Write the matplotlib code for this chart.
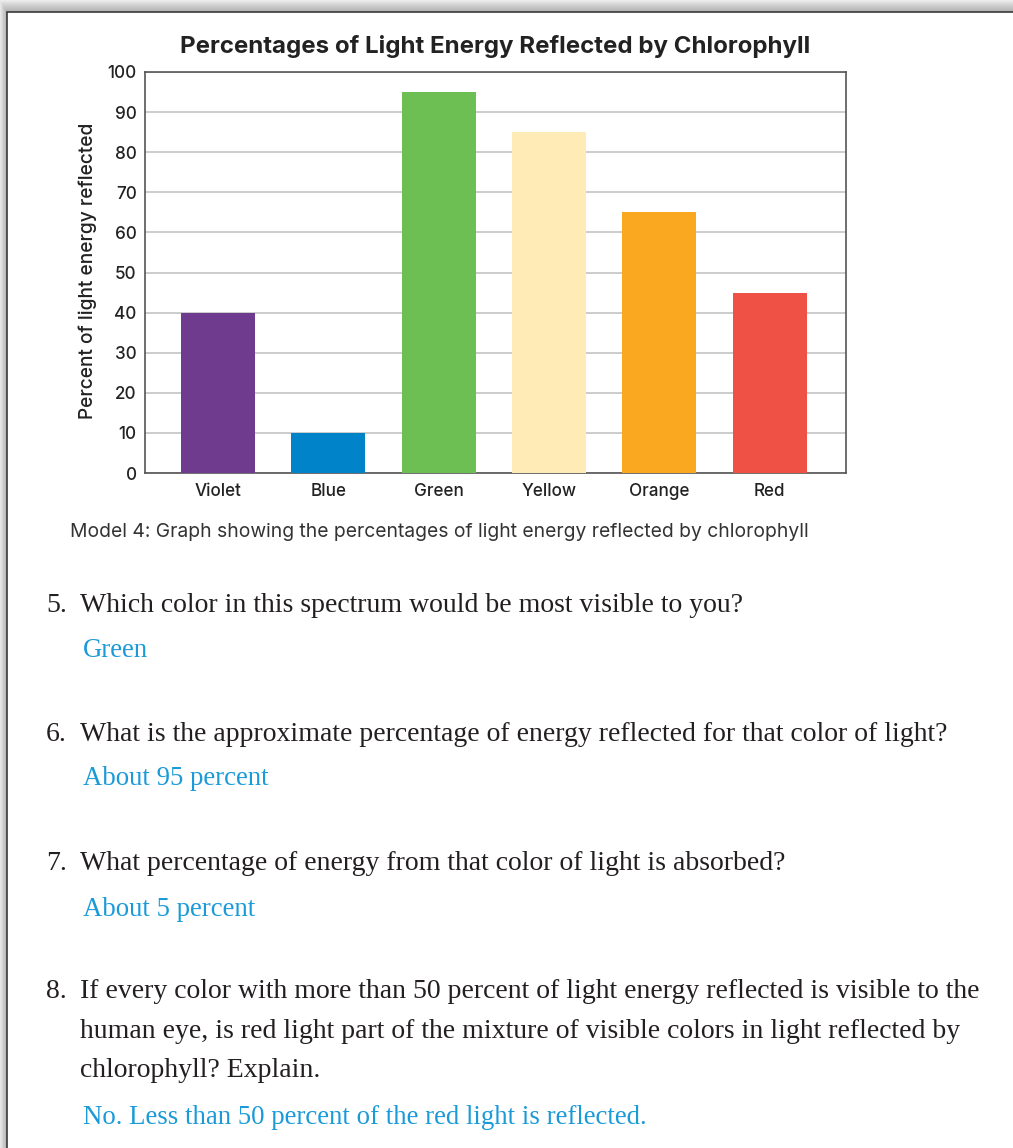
import matplotlib.pyplot as plt
from matplotlib.patches import Rectangle

# bar chart data
colors_names = ['Violet', 'Blue', 'Green', 'Yellow', 'Orange', 'Red']
reflected = [40, 10, 95, 85, 65, 45]
bar_colors = ['#6E3B8E', '#0083C8', '#6DBE53', '#FEEBB6', '#F9A81F', '#F05145']
y_ticks = [0, 10, 20, 30, 40, 50, 60, 70, 80, 90, 100]

# worksheet questions and answers
questions = [
    ('5.', ['Which color in this spectrum would be most visible to you?'],
     'Green'),
    ('6.', ['What is the approximate percentage of energy reflected for that color of light?'],
     'About 95 percent'),
    ('7.', ['What percentage of energy from that color of light is absorbed?'],
     'About 5 percent'),
    ('8.', ['If every color with more than 50 percent of light energy reflected is visible to the',
            'human eye, is red light part of the mixture of visible colors in light reflected by',
            'chlorophyll? Explain.'],
     'No. Less than 50 percent of the red light is reflected.'),
]
question_baselines = [612, 741, 870, 998]
answer_baselines = [657, 785, 916, 1124]

W, H = 1013, 1148
fig = plt.figure(figsize=(W / 100, H / 100), dpi=100)
fig.patch.set_facecolor('#d9d9d9')


def fx(px):
    return px / W


def fy(py):
    return 1 - py / H


# page background with a soft shadow
bg = fig.add_axes([0, 0, 1, 1])
bg.set_xlim(0, W)
bg.set_ylim(H, 0)
bg.axis('off')
bg.add_patch(Rectangle((0, 0), W, H, color='#f2f2f2', zorder=0))
for k in range(12, 0, -1):
    bg.add_patch(Rectangle((7 - k * 0.6, 12 - k), W, H, color='#000000',
                           alpha=0.025, lw=0, zorder=1))
bg.add_patch(Rectangle((7, 12), W, H + 10, facecolor='white',
                       edgecolor='#3a3a3a', lw=1.2, zorder=2))

sans = 'Inter'
ax = fig.add_axes([fx(145), fy(473), fx(701), 401 / H])
x = range(len(colors_names))
ax.bar(x, reflected, width=0.67, color=bar_colors, zorder=3)
ax.set_xlim(-0.66, 5.69)
ax.set_ylim(0, 100)
ax.set_yticks(y_ticks)
ax.set_xticks(list(x))
ax.set_xticklabels(colors_names)
ax.yaxis.grid(True, color='#c4c4c4', lw=1.2, zorder=0)
ax.tick_params(length=0, labelsize=12.3, labelcolor='#222222')
ax.tick_params(axis='y', pad=6)
ax.tick_params(axis='x', pad=7)
for lab in ax.get_xticklabels() + ax.get_yticklabels():
    lab.set_fontfamily(sans)
    lab.set_fontweight('medium')
for sp in ax.spines.values():
    sp.set_color('#555555')
    sp.set_linewidth(1.2)

fig.text(fx(495), fy(53), 'Percentages of Light Energy Reflected by Chlorophyll',
         ha='center', va='baseline', fontsize=17.3, fontweight='bold',
         family=sans, color='#222222')
fig.text(fx(88), fy(271), 'Percent of light energy reflected', rotation=90,
         ha='center', va='center', fontsize=13.8, fontweight='medium',
         family=sans, color='#222222')
fig.text(fx(70), fy(537), 'Model 4: Graph showing the percentages of light energy reflected by chlorophyll',
         ha='left', va='baseline', fontsize=13.9, family=sans, color='#333333')

serif = 'Liberation Serif'
for (num, lines, answer), qb, ab in zip(questions, question_baselines, answer_baselines):
    fig.text(fx(46), fy(qb), num, ha='left', va='baseline', fontsize=20,
             family=serif, color='#231f20')
    for i, line in enumerate(lines):
        fig.text(fx(80), fy(qb + i * 39.5), line, ha='left', va='baseline',
                 fontsize=20, family=serif, color='#231f20')
    fig.text(fx(83), fy(ab), answer, ha='left', va='baseline', fontsize=19.3,
             family=serif, color='#1b9ad8')

fig.savefig('out.png', dpi=100)
